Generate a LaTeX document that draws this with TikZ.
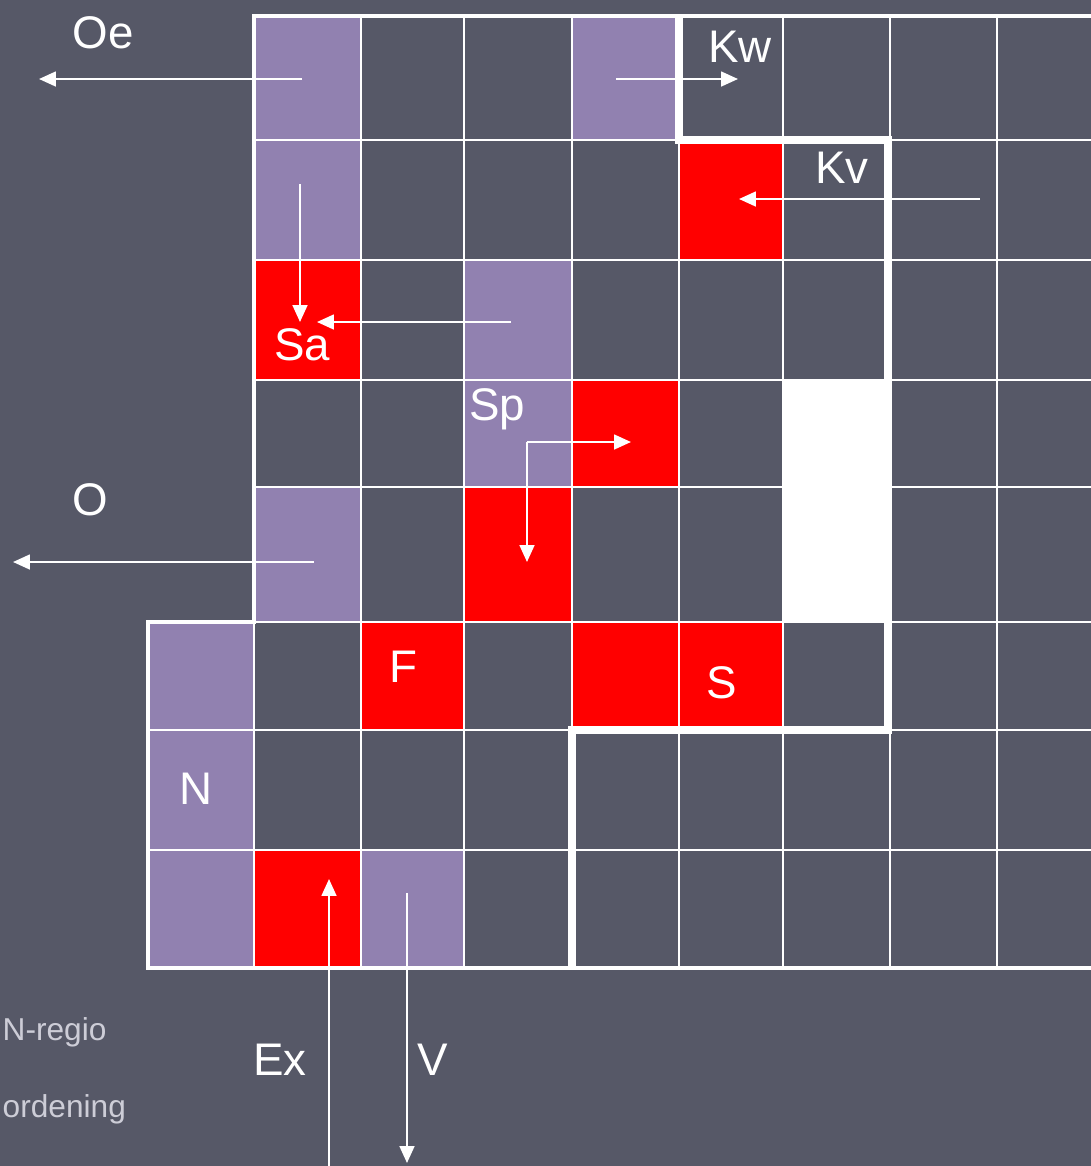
\documentclass[tikz,border=0pt]{standalone}
\usepackage{fontspec}
\setmainfont{Liberation Sans}
\usetikzlibrary{arrows.meta}
\definecolor{slate}{RGB}{86,88,103}
\definecolor{lilac}{RGB}{145,129,176}
\definecolor{legend}{RGB}{205,205,215}

\begin{document}
\begin{tikzpicture}[x=0.01cm, y=-0.01cm,
        tag/.style={text=white, font=\fontsize{13}{15}\selectfont, anchor=base, inner sep=0pt},
        note/.style={text=legend, font=\fontsize{9}{11}\selectfont, anchor=base west, inner sep=0pt},
        flow/.style={white, line width=0.6pt, -{Triangle[length=4.8pt, width=4.2pt]}},
        gridline/.style={white, line width=0.7pt},
        border/.style={white, line width=1pt},
        wall/.style={white, line width=2pt}
    ]
    \useasboundingbox[fill=slate] (0,0) rectangle (1091,1166);

    % lilac cells
    \fill[lilac] (254,16) rectangle (361,140);
    \fill[lilac] (572,16) rectangle (679,140);
    \fill[lilac] (254,140) rectangle (361,260);
    \fill[lilac] (464,260) rectangle (572,487);
    \fill[lilac] (254,487) rectangle (361,622);
    \fill[lilac] (148,622) rectangle (254,968);
    \fill[lilac] (361,850) rectangle (464,968);
    % red cells
    \fill[red] (679,140) rectangle (783,260);
    \fill[red] (254,260) rectangle (361,380);
    \fill[red] (572,380) rectangle (679,487);
    \fill[red] (464,487) rectangle (572,622);
    \fill[red] (361,622) rectangle (464,730);
    \fill[red] (572,622) rectangle (783,730);
    \fill[red] (254,850) rectangle (361,968);
    % blocked cells
    \fill[white] (783,380) rectangle (888,622);

    % grid
    \foreach \x in {361,464,572,679,783,890,997}
        \draw[gridline] (\x,16) -- (\x,968);
    \foreach \y in {140,260,380,487,622}
        \draw[gridline] (254,\y) -- (1091,\y);
    \foreach \y in {730,850}
        \draw[gridline] (148,\y) -- (1091,\y);
    \draw[gridline] (254,622) -- (254,968);
    \draw[border] (1091,16) -- (254,16) -- (254,622) -- (148,622) -- (148,968) -- (1091,968);
    \draw[wall] (679,16) -- (679,140) -- (888,140) -- (888,730) -- (572,730) -- (572,968);

    % labels
    \node[tag] (oe) at (103,48) {Oe};
    \node[tag] (kw) at (740,62) {Kw};
    \node[tag] (kv) at (842,183) {Kv};
    \node[tag] (sa) at (302,360) {Sa};
    \node[tag] (sp) at (497,420) {Sp};
    \node[tag] (o) at (90,515) {O};
    \node[tag] (f) at (403,682) {F};
    \node[tag] (s) at (722,698) {S};
    \node[tag] (n) at (196,804) {N};
    \node[tag] (ex) at (280,1075) {Ex};
    \node[tag] (v) at (433,1075) {V};
    \node[note] (nregio) at (2,1040) {N-regio};
    \node[note] (ordening) at (2,1117) {ordening};

    % flows
    \coordinate (oeA) at (302,79);  \coordinate (oeB) at (39,79);
    \coordinate (kwA) at (616,79);  \coordinate (kwB) at (738,79);
    \coordinate (kvA) at (980,199); \coordinate (kvB) at (739,199);
    \coordinate (saA) at (300,184); \coordinate (saB) at (300,322);
    \coordinate (sbA) at (511,322); \coordinate (sbB) at (317,322);
    \coordinate (spA) at (527,442); \coordinate (spB) at (631,442);
    \coordinate (spC) at (527,562);
    \coordinate (oA) at (314,562);  \coordinate (oB) at (13,562);
    \coordinate (exA) at (329,1166); \coordinate (exB) at (329,879);
    \coordinate (vA) at (407,893);  \coordinate (vB) at (407,1163);

    \draw[flow] (oeA) -- (oeB);
    \draw[flow] (kwA) -- (kwB);
    \draw[flow] (kvA) -- (kvB);
    \draw[flow] (saA) -- (saB);
    \draw[flow] (sbA) -- (sbB);
    \draw[flow] (spA) -- (spB);
    \draw[flow] (spA) -- (spC);
    \draw[flow] (oA) -- (oB);
    \draw[flow] (exA) -- (exB);
    \draw[flow] (vA) -- (vB);
\end{tikzpicture}
\end{document}
